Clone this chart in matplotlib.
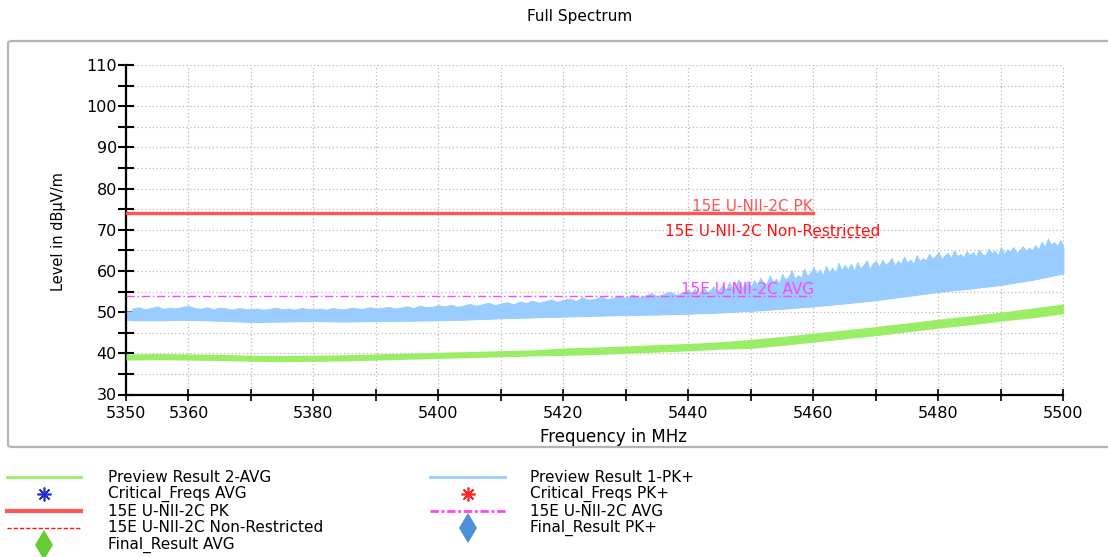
import numpy as np
import matplotlib
matplotlib.use("Agg")
import matplotlib.pyplot as plt
from matplotlib.lines import Line2D
from matplotlib.patches import FancyBboxPatch

W, H = 1108, 557

# ---------------- data ----------------
core_freq = [5350, 5355, 5360, 5365, 5370, 5375, 5380, 5385, 5390, 5395,
             5400, 5405, 5410, 5415, 5420, 5425, 5430, 5435, 5440, 5445,
             5450, 5455, 5460, 5465, 5470, 5475, 5480, 5485, 5490, 5495, 5500]

# Preview Result 1-PK+ (blue) band
blue_lo = [48.0, 48.0, 48.1, 47.9, 47.6, 47.7, 47.8, 47.7, 47.8, 47.9,
           48.0, 48.2, 48.5, 48.7, 48.9, 49.1, 49.3, 49.4, 49.6, 49.9,
           50.3, 50.8, 51.4, 52.1, 52.9, 53.9, 54.9, 55.7, 56.6, 57.8, 59.4]
blue_hi = [50.3, 50.4, 50.5, 50.2, 50.0, 50.0, 50.1, 50.0, 50.1, 50.3,
           50.6, 50.8, 51.0, 51.4, 51.8, 52.2, 52.6, 52.9, 53.3, 53.8,
           54.4, 55.5, 56.8, 57.8, 58.8, 59.8, 60.8, 61.5, 62.2, 63.4, 65.0]

# peaks of the blue trace: 1 MHz points 5351..5440, then 0.5 MHz points 5440.5..5500
spike_top_low = [
    50.9, 51.2, 50.7, 51.0, 51.4, 50.8, 51.1, 50.9, 51.3, 51.5,
    51.0, 50.8, 51.2, 50.7, 51.1, 50.9, 50.6, 51.0, 50.8, 50.7,
    50.9, 50.6, 50.8, 51.1, 50.7, 50.9, 50.6, 51.0, 50.8, 50.7,
    50.9, 50.6, 51.0, 50.8, 50.7, 51.1, 50.9, 50.8, 51.2, 50.9,
    51.0, 51.3, 50.9, 51.1, 51.4, 51.0, 51.6, 51.2, 51.3, 51.7,
    51.4, 51.8, 51.3, 51.6, 52.0, 51.5, 51.9, 52.3, 51.7, 52.1,
    52.4, 51.9, 52.6, 52.2, 52.8, 52.3, 52.6, 53.1, 52.5, 53.0,
    53.3, 52.7, 53.6, 53.0, 53.2, 53.8, 53.1, 53.5, 54.0, 53.4,
    54.3, 53.6, 54.0, 54.6, 53.9, 54.4, 55.0, 54.2, 54.7, 55.5]
spike_top_high = [
    54.6, 55.8, 54.3, 55.1, 56.0, 54.8, 55.4, 56.3, 54.9, 55.7,
    56.8, 55.2, 57.4, 55.9, 56.5, 58.0, 55.8, 56.9, 57.6, 56.2,
    57.8, 56.6, 58.4, 57.1, 56.9, 58.9, 57.3, 58.1, 57.0, 59.3,
    57.9, 58.6, 60.2, 58.1, 59.0, 58.4, 60.6, 58.8, 59.5, 61.0,
    59.2, 60.4, 58.9, 61.3, 59.7, 60.8, 59.4, 62.0, 60.1, 61.5,
    60.3, 61.8, 59.9, 62.2, 60.7, 61.4, 62.6, 60.5, 61.9, 62.4,
    61.0, 62.7, 61.5, 62.1, 63.2, 61.3, 62.5, 61.8, 63.5, 62.0,
    62.8, 61.7, 63.9, 62.4, 63.1, 62.6, 64.2, 63.0, 63.6, 64.6,
    62.9, 63.8, 64.4, 63.1, 65.0, 63.6, 64.1, 63.3, 64.8, 63.9,
    64.6, 63.5, 65.2, 64.0, 63.8, 65.4, 64.3, 64.9, 63.7, 65.9,
    64.1, 65.3, 64.7, 65.8, 64.4, 65.1, 66.0, 64.9, 65.6, 65.0,
    66.3, 65.2, 67.1, 65.8, 67.9, 66.4, 67.0, 66.1, 67.5, 65.8]
spike_freq_low = np.arange(5351, 5440.5, 1.0)
spike_freq_high = np.arange(5440.5, 5500.01, 0.5)

# Preview Result 2-AVG (green) band
green_lo = [38.35, 38.45, 38.35, 38.25, 38.05, 37.95, 38.05, 38.15, 38.35, 38.55,
            38.75, 38.95, 39.15, 39.35, 39.5, 39.7, 40.0, 40.3, 40.6, 41.0,
            41.2, 41.9, 42.7, 43.5, 44.3, 45.2, 46.1, 46.9, 47.8, 48.6, 49.6]
green_hi = [39.85, 39.95, 39.85, 39.75, 39.55, 39.45, 39.55, 39.65, 39.85, 40.05,
            40.25, 40.45, 40.65, 40.85, 41.3, 41.5, 41.8, 42.1, 42.4, 42.8,
            43.4, 44.1, 44.9, 45.7, 46.5, 47.4, 48.3, 49.1, 50.0, 51.0, 52.0]

# limit lines
pk_freq, pk_level = [5350, 5460], [74, 74]
avg_freq, avg_level = [5350, 5460], [54, 54]
nr_freq, nr_level = [5460, 5470], [68.2, 68.2]

x_ticks = list(range(5350, 5501, 10))
x_tick_labels = ["5350", "5360", "", "5380", "", "5400", "", "5420", "",
                 "5440", "", "5460", "", "5480", "", "5500"]
y_ticks = list(range(30, 111, 10))
y_minor = list(range(35, 110, 10))

# ---------------- colours ----------------
c_green = "#99ee66"
c_blue = "#99ccff"
c_pk = "#ff5555"
c_avg = "#ff44ff"
c_nr = "#ff1111"

FONT = "DejaVu Sans"
plt.rcParams["font.family"] = [FONT]

fig = plt.figure(figsize=(W / 100, H / 100), dpi=100)

def fx(px):
    return px / W

def fy(py):
    return 1 - py / H

# outer frame
frame = FancyBboxPatch((fx(8), fy(447)), fx(1120) - fx(8), fy(41) - fy(447),
                       boxstyle="round,pad=0,rounding_size=0.004",
                       transform=fig.transFigure, fc="none", ec="#b4b4b4",
                       lw=1.6, zorder=0)
fig.add_artist(frame)

ax = fig.add_axes([fx(126), fy(394.5), fx(1063.5) - fx(126), fy(65) - fy(394.5)])
ax.set_xlim(5350, 5500)
ax.set_ylim(30, 110)

# traces
ax.fill_between(core_freq, green_lo, green_hi, color=c_green, lw=0, zorder=3)
ax.fill_between(core_freq, blue_lo, blue_hi, color=c_blue, lw=0, zorder=2)
peak_freq = np.concatenate([spike_freq_low, spike_freq_high])
peak_top = np.array(spike_top_low + spike_top_high)
peak_base = np.interp(peak_freq, core_freq, blue_lo)
ax.fill_between(peak_freq, peak_base, peak_top, color=c_blue, lw=0.6,
                edgecolor=c_blue, zorder=2)

# limit lines
ax.plot(pk_freq, pk_level, color=c_pk, lw=2.4, zorder=4)
ax.plot(avg_freq, avg_level, color=c_avg, lw=1.0, ls=(0, (6, 2, 1, 2)), zorder=4)
ax.plot(nr_freq, nr_level, color=c_nr, lw=1.0, ls=(0, (3, 2)), zorder=4)

ax.text(5450.3, 74.5, "15E U-NII-2C PK", color=c_pk, fontsize=11,
        ha="center", va="baseline", zorder=5)
ax.text(5453.4, 68.4, "15E U-NII-2C Non-Restricted", color=c_nr, fontsize=11,
        ha="center", va="baseline", zorder=5)
ax.text(5449.4, 54.5, "15E U-NII-2C AVG", color=c_avg, fontsize=11,
        ha="center", va="baseline", zorder=5)

# axes styling
ax.set_xticks(x_ticks)
ax.set_xticklabels(x_tick_labels)
ax.set_yticks(y_ticks)
ax.set_yticks(y_minor, minor=True)
ax.tick_params(axis="y", which="both", direction="inout", length=11, width=1.5,
               labelsize=11.5, pad=1)
ax.tick_params(axis="x", which="both", direction="inout", length=9, width=1.2,
               labelsize=11.5, pad=4)
for s in ("top", "right"):
    ax.spines[s].set_visible(False)
ax.spines["left"].set_linewidth(1.6)
ax.spines["bottom"].set_linewidth(1.6)
ax.grid(True, which="both", color="#b8b8b8", lw=0.9, ls=(0, (1, 2)), zorder=0)
ax.set_axisbelow(True)

fig.text(fx(580), fy(16), "Full Spectrum", ha="center", va="center", fontsize=11)
fig.text(fx(614), fy(437), "Frequency in MHz", ha="center", va="center", fontsize=12)
fig.text(fx(58), fy(232), "Level in dBµV/m", ha="center", va="center",
         rotation=90, fontsize=10.5)

# manual legend
rows = [477, 494, 511, 528, 545]
col_handle = [(7, 81), (430, 505)]
col_text = [108, 530]
entries = [
    (0, 0, dict(color=c_green, lw=2), None, "Preview Result 2-AVG"),
    (1, 0, dict(color=c_blue, lw=2), None, "Preview Result 1-PK+"),
    (0, 1, None, dict(marker=(8, 2, 0), color="#2233cc", ms=10, mew=1.2), "Critical_Freqs AVG"),
    (1, 1, None, dict(marker=(8, 2, 0), color="#ff2222", ms=10, mew=1.2), "Critical_Freqs PK+"),
    (0, 2, dict(color=c_pk, lw=3), None, "15E U-NII-2C PK"),
    (1, 2, dict(color=c_avg, lw=2, ls=(0, (3, 1, 1, 1))), None, "15E U-NII-2C AVG"),
    (0, 3, dict(color=c_nr, lw=1, ls=(0, (3, 1.5))), None, "15E U-NII-2C Non-Restricted"),
    (1, 3, None, dict(marker="d", color="#4a90d9", ms=15, mew=0), "Final_Result PK+"),
    (0, 4, None, dict(marker="d", color="#66cc33", ms=15, mew=0), "Final_Result AVG"),
]
for col, row, lstyle, mstyle, label in entries:
    y = rows[row]
    x0, x1 = col_handle[col]
    if lstyle is not None:
        fig.add_artist(Line2D([fx(x0), fx(x1)], [fy(y), fy(y)],
                              transform=fig.transFigure, **lstyle))
    else:
        fig.add_artist(Line2D([fx((x0 + x1) / 2)], [fy(y)], ls="none",
                              transform=fig.transFigure, **mstyle))
    fig.text(fx(col_text[col]), fy(y), label, ha="left", va="center", fontsize=11)

fig.savefig("out.png", dpi=100)
